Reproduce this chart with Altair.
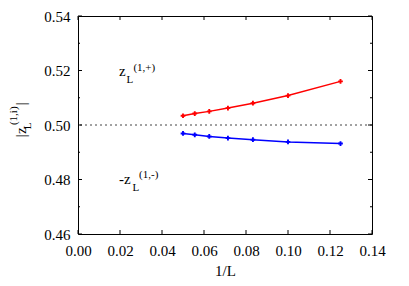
import altair as alt
import pandas as pd

# ---- data ----
inv_L = [0.05, 0.0556, 0.0625, 0.0714, 0.0833, 0.10, 0.125]
z_plus = [0.5034, 0.5042, 0.5050, 0.5062, 0.5080, 0.5108, 0.5160]
z_minus = [0.4969, 0.4964, 0.4958, 0.4952, 0.4946, 0.4938, 0.4932]
ref_level = [0.50]

x_ticks = [0.0, 0.02, 0.04, 0.06, 0.08, 0.10, 0.12, 0.14]
y_major = [0.46, 0.48, 0.50, 0.52, 0.54]
y_minor = [0.47, 0.49, 0.51, 0.53]

# annotation pieces: text, x, y, font size
ann_text = ["z", "L", "(1,+)", "-z", "L", "(1,-)"]
ann_x = [0.0195, 0.0231, 0.0264, 0.0195, 0.0260, 0.0291]
ann_y = [0.5180, 0.5155, 0.5199, 0.4785, 0.4759, 0.4807]
ann_size = [15, 11, 11, 15, 11, 11]

ttl_text = ["|", "z", "L", "(1,i)", "|"]
ttl_x = [-0.0247, -0.0247, -0.0223, -0.0290, -0.0247]
ttl_y = [0.4961, 0.4979, 0.4997, 0.5034, 0.5078]
ttl_size = [15, 15, 11, 11, 15]

FONT = "Liberation Serif"
W, H = 294, 218

xs = alt.Scale(domain=[0, 0.14], nice=False, zero=False)
ys = alt.Scale(domain=[0.46, 0.54], nice=False, zero=False)
XAX = alt.Axis(values=x_ticks, format=".2f", title="1/L", ticks=False, domain=False,
               grid=False, labelPadding=9, titlePadding=5, labelFlush=False,
               labelOverlap=False)
YAX = alt.Axis(values=y_major, format=".2f", title=None, ticks=False, domain=False,
               grid=False, labelPadding=8, labelFlush=False, labelOverlap=False)

def X(f):
    return alt.X(f, scale=xs, axis=XAX)

def Y(f):
    return alt.Y(f, scale=ys, axis=YAX)

series = pd.DataFrame({
    "x": inv_L + inv_L,
    "y": z_plus + z_minus,
    "s": ["plus"] * len(inv_L) + ["minus"] * len(inv_L),
})
color = alt.Color("s:N", scale=alt.Scale(domain=["plus", "minus"], range=["#ff0000", "#0000ff"]), legend=None)

lines = alt.Chart(series).mark_line(strokeWidth=1.5).encode(x=X("x:Q"), y=Y("y:Q"), color=color)
pts = alt.Chart(series).mark_point(shape="cross", filled=True, size=22, opacity=1).encode(
    x=X("x:Q"), y=Y("y:Q"), color=color)

ref = alt.Chart(pd.DataFrame({"y": ref_level})).mark_rule(
    color="#444444", strokeWidth=1, strokeDash=[2, 3]
).encode(y=Y("y:Q"))

xt = pd.DataFrame({"v": x_ticks})
ymaj = pd.DataFrame({"v": y_major})
ymin = pd.DataFrame({"v": y_minor})

def xtick(y0, y1):
    return alt.Chart(xt).mark_rule(color="black", strokeWidth=1).encode(
        x=X("v:Q"), y=alt.value(y0), y2=alt.value(y1))

def ytick(df, x0, x1):
    return alt.Chart(df).mark_rule(color="black", strokeWidth=1).encode(
        y=Y("v:Q"), x=alt.value(x0), x2=alt.value(x1))

ticks = [
    xtick(H, H - 4), xtick(0, 4),
    ytick(ymaj, 0, 4), ytick(ymaj, W, W - 4),
    ytick(ymin, 0, 2), ytick(ymin, W, W - 2),
]

ann = pd.DataFrame({"t": ann_text, "x": ann_x, "y": ann_y, "fs": ann_size})
ann_layer = alt.Chart(ann).mark_text(font=FONT, align="left", baseline="alphabetic", color="black").encode(
    x=X("x:Q"), y=Y("y:Q"), text="t:N",
    size=alt.Size("fs:Q", scale=None, legend=None),
)

ttl = pd.DataFrame({"t": ttl_text, "x": ttl_x, "y": ttl_y, "fs": ttl_size})
ttl_layer = alt.Chart(ttl).mark_text(font=FONT, align="center", baseline="alphabetic", angle=270, color="black").encode(
    x=X("x:Q"), y=Y("y:Q"), text="t:N",
    size=alt.Size("fs:Q", scale=None, legend=None),
)

chart = alt.layer(lines, pts, ref, *ticks, ann_layer, ttl_layer).properties(
    width=W, height=H,
    autosize=alt.AutoSizeParams(type="none"),
    padding={"left": 70, "top": 8, "right": 29, "bottom": 44},
).configure_view(
    stroke="black", strokeWidth=1
).configure_axis(
    labelFont=FONT, labelFontSize=15, labelColor="black",
    titleFont=FONT, titleFontSize=15, titleFontWeight="normal", titleColor="black",
)

chart.save("out.html", embed_options={"renderer": "svg", "actions": False})
